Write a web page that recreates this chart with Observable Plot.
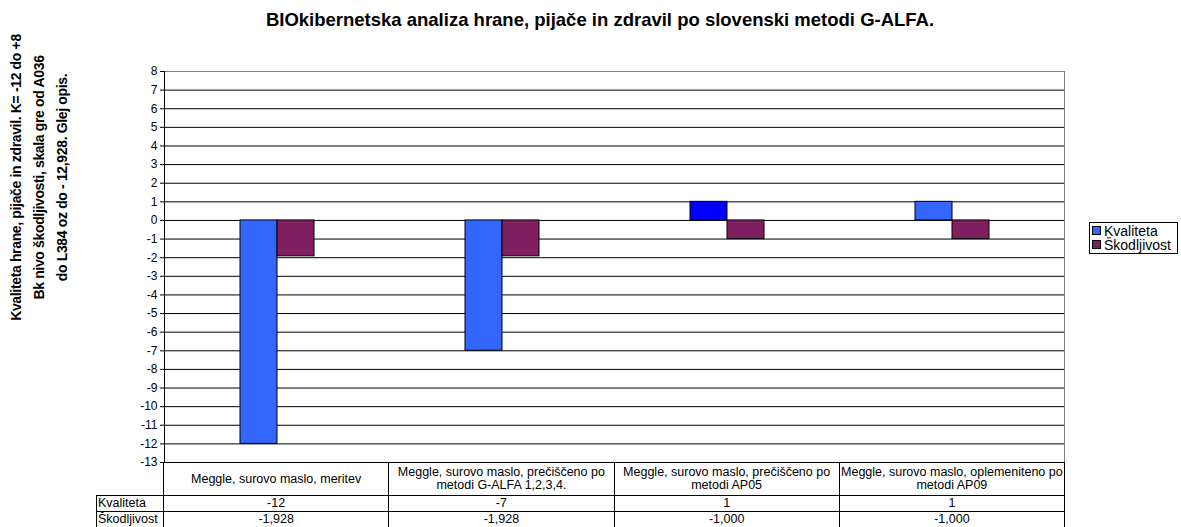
<!DOCTYPE html>
<html>
<head>
<meta charset="utf-8">
<script src="https://cdn.jsdelivr.net/npm/d3@7"></script>
<script src="https://cdn.jsdelivr.net/npm/@observablehq/plot@0.6"></script>
<style>
  body { margin: 0; background: #fff; font-family: "Liberation Sans", Arial, sans-serif; color: #000; }
  #wrap { position: relative; width: 1181px; height: 527px; overflow: hidden; background: #fff; }
  #title { position: absolute; left: 0; width: 1200px; top: 9px; text-align: center; font-weight: bold; font-size: 18.5px; line-height: 21px; white-space: nowrap; }
  #ylabel { position: absolute; width: 400px; height: 69px; left: -161px; top: 143px; transform: rotate(-90deg); transform-origin: 50% 50%;
            text-align: center; font-weight: bold; font-size: 14px; line-height: 23px; letter-spacing: -0.35px; white-space: nowrap; }
  #chart { position: absolute; left: 0; top: 0; }
  #tbl { position: absolute; left: 96px; top: 462px; border-collapse: collapse; table-layout: fixed; width: 968px; font-size: 12.5px; }
  #tbl td { border: 1px solid #000; padding: 0; text-align: center; line-height: 13px; overflow: hidden; }
  #tbl tr.hdr td { height: 32px; }
  #tbl tr.val td { height: 15px; }
  #tbl td.blank { border: none; }
  #tbl td.lab { text-align: left; padding-left: 1px; }
  #legend { position: absolute; left: 1089px; top: 222px; border: 1px solid #000; padding: 1px 6px 1px 2px; font-size: 14px; line-height: 14px; white-space: nowrap; }
  #legend .sw { display: inline-block; width: 7px; height: 7px; border: 1px solid #000; margin-right: 3px; vertical-align: 1px; }
</style>
</head>
<body>
<div id="wrap">
  <div id="title">BIOkibernetska analiza hrane, pijače in zdravil po slovenski metodi G-ALFA.</div>
  <div id="ylabel">Kvaliteta hrane, pijače in zdravil. K= -12 do +8<br>Bk nivo škodljivosti, skala gre od A036<br>do L384 oz do - 12,928. Glej opis.</div>
  <div id="chart"></div>
  <table id="tbl"></table>
  <div id="legend"></div>
</div>
<script>
// ---- data ----
const categories = [
  "Meggle, surovo maslo, meritev",
  "Meggle, surovo maslo, prečiščeno po metodi G-ALFA 1,2,3,4.",
  "Meggle, surovo maslo, prečiščeno po metodi AP05",
  "Meggle, surovo maslo, oplemeniteno po metodi AP09"
];
const series = ["Kvaliteta", "Škodljivost"];
const kvaliteta = [-12, -7, 1, 1];
const skodljivost = [-1.928, -1.928, -1, -1];
const yTicks = [8, 7, 6, 5, 4, 3, 2, 1, 0, -1, -2, -3, -4, -5, -6, -7, -8, -9, -10, -11, -12, -13];

// ---- styles ----
const colorK = "#3366FF";
const colorKAlt = "#0000FF"; // third Kvaliteta bar is drawn in pure blue in the original
const colorS = "#7F1F5F";

const rows = categories.flatMap((c, i) => [
  {cat: c, series: series[0], value: kvaliteta[i], idx: i},
  {cat: c, series: series[1], value: skodljivost[i], idx: i}
]);
const fillOf = d => d.series === series[1] ? colorS : (d.idx === 2 ? colorKAlt : colorK);

const chart = Plot.plot({
  width: 1181,
  height: 463,
  marginTop: 71,
  marginBottom: 1,
  marginLeft: 163,
  marginRight: 117,
  style: {fontFamily: '"Liberation Sans", Arial, sans-serif', fontSize: "12px", color: "#000", background: "transparent", overflow: "visible"},
  fx: {domain: categories, padding: 0, axis: null},
  x: {domain: series, paddingInner: 0, paddingOuter: 2, axis: null},
  y: {domain: [-13, 8], axis: null},
  marks: [
    Plot.gridY(yTicks, {stroke: "#000", strokeOpacity: 1}),
    Plot.frame({anchor: "top", stroke: "#808080"}),
    Plot.barY(rows, {fx: "cat", x: "series", y: "value", fill: fillOf, stroke: "#000", strokeWidth: 1}),
    Plot.axisY(yTicks, {label: null, tickSize: 4, tickPadding: 3, fontSize: 12, tickFormat: d => String(d), stroke: "#000"}),
    Plot.frame({anchor: "left", stroke: "#000", fx: [categories[0]]}),
    Plot.frame({anchor: "right", stroke: "#808080", fx: [categories[categories.length - 1]]})
  ]
});
document.getElementById("chart").appendChild(chart);

// ---- data table ----
const tbl = document.getElementById("tbl");
const fmtK = v => String(v);
const fmtS = v => v.toFixed(3).replace(".", ",");
let html = '<colgroup><col style="width:67px">' + categories.map(() => '<col style="width:225.25px">').join("") + '</colgroup>';
html += '<tr class="hdr"><td class="blank"></td>' + categories.map(c => `<td>${c}</td>`).join("") + '</tr>';
html += `<tr class="val"><td class="lab">${series[0]}</td>` + kvaliteta.map(v => `<td>${fmtK(v)}</td>`).join("") + '</tr>';
html += `<tr class="val"><td class="lab">${series[1]}</td>` + skodljivost.map(v => `<td>${fmtS(v)}</td>`).join("") + '</tr>';
tbl.innerHTML = html;

// ---- legend ----
document.getElementById("legend").innerHTML =
  `<div><span class="sw" style="background:${colorK}"></span>${series[0]}</div>` +
  `<div><span class="sw" style="background:${colorS}"></span>${series[1]}</div>`;
</script>
</body>
</html>
